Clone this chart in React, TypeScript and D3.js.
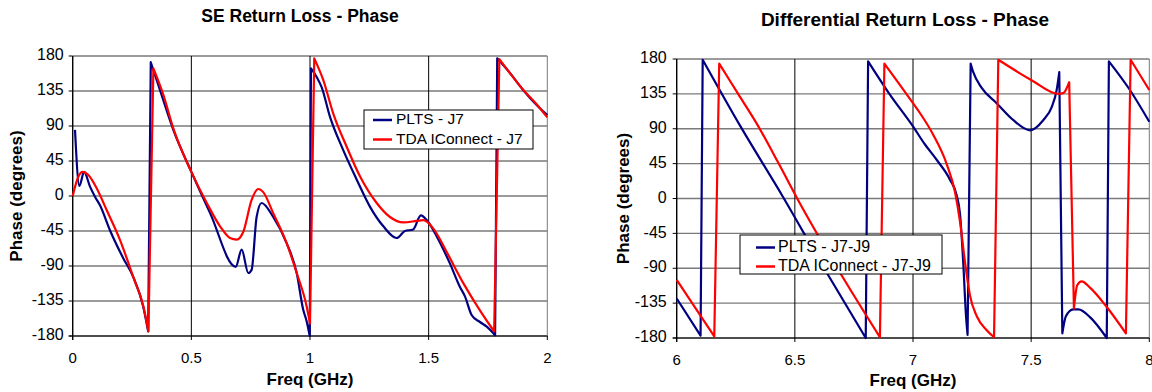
import React from "react";
import * as d3 from "d3";

// ---------- Data ----------
const yTicks = [-180, -135, -90, -45, 0, 45, 90, 135, 180];
const seXTicks = [0, 0.5, 1, 1.5, 2];
const diffXTicks = [6, 6.5, 7, 7.5, 8];

const seTitle = "SE Return Loss - Phase";
const diffTitle = "Differential Return Loss - Phase";
const seLegend = ["PLTS - J7", "TDA IConnect - J7"];
const diffLegend = ["PLTS - J7-J9", "TDA IConnect - J7-J9"];

// SE - PLTS J7
const sePltsFreq = [0.0097, 0.028, 0.048, 0.073, 0.094, 0.115, 0.157, 0.213, 0.255, 0.297, 0.318,
  0.329, 0.368, 0.424, 0.5, 0.579, 0.687, 0.712, 0.74, 0.754, 0.775, 0.796, 0.845, 0.902, 0.944, 0.972, 0.985, 0.999,
  1.004, 1.028, 1.049, 1.084, 1.14, 1.197, 1.253, 1.309, 1.365, 1.4, 1.435, 1.467, 1.492, 1.534, 1.59, 1.632, 1.653, 1.681, 1.716, 1.745, 1.78,
  1.789, 1.843, 1.899, 1.955, 2.0];
const sePltsPhase = [85, 13, 31, 12, -1, -12, -44, -80, -104, -142, -174,
  172, 136, 85, 31, -22, -91, -69, -99, -95, -27, -9, -27, -61, -99, -147, -160, -180,
  164, 153, 140, 102, 59, 21, -14, -39, -54, -45, -43, -25, -31, -52, -87, -117, -129, -153, -162, -168, -179,
  177, 158, 136, 117, 104];

// SE - TDA IConnect J7
const seTdaFreq = [0, 0.024, 0.042, 0.066, 0.101, 0.143, 0.2, 0.255, 0.298, 0.319,
  0.34, 0.382, 0.424, 0.5, 0.565, 0.621, 0.663, 0.691, 0.719, 0.754, 0.782, 0.803, 0.845, 0.902, 0.944, 0.986, 1.0,
  1.018, 1.056, 1.098, 1.155, 1.211, 1.281, 1.337, 1.393, 1.45, 1.478, 1.52, 1.576, 1.646, 1.716, 1.776,
  1.798, 1.85, 1.9, 1.955, 2.0];
const seTdaPhase = [0, 25, 31, 27, 10, -18, -57, -104, -142, -174,
  164, 130, 87, 31, -9, -39, -54, -56, -46, -5, 9, 5, -22, -61, -99, -142, -164,
  177, 149, 106, 63, 25, -9, -27, -34, -32, -31, -42, -72, -112, -147, -174,
  176, 155, 136, 118, 101];

// Differential - PLTS J7-J9
const diffPltsFreq = [6.0, 6.101, 6.11, 6.27, 6.45, 6.62, 6.8,
  6.81, 6.9, 7.0, 7.05, 7.1, 7.157, 7.185, 7.199, 7.213, 7.224, 7.231,
  7.244, 7.255, 7.29, 7.354, 7.425, 7.495, 7.551, 7.587, 7.608, 7.619,
  7.632, 7.647, 7.678, 7.7, 7.749, 7.82,
  7.829, 7.918, 8.0];
const diffPltsPhase = [-129, -177, 179, 93, 2, -88, -180,
  177, 135, 93, 70, 50, 24, 4, -20, -85, -150, -176,
  174, 163, 143, 123, 101, 88, 101, 118, 140, 163,
  -174, -152, -143, -143, -153, -180,
  177, 140, 99];

// Differential - TDA IConnect J7-J9
const diffTdaFreq = [6.0, 6.159, 6.18, 6.26, 6.34, 6.43, 6.51, 6.68, 6.86,
  6.879, 7.0, 7.03, 7.086, 7.143, 7.178, 7.199, 7.22, 7.241, 7.27, 7.312, 7.343,
  7.361, 7.5, 7.615, 7.636, 7.661,
  7.681, 7.695, 7.714, 7.749, 7.82, 7.901,
  7.921, 8.0];
const diffTdaPhase = [-105, -178, 174, 135, 96, 46, 0, -90, -179,
  174, 123, 110, 82, 44, 8, -30, -82, -125, -152, -170, -179,
  179, 153, 135, 136, 150,
  -142, -112, -107, -115, -140, -174,
  179, 140];

const BLUE = "#000080";
const RED = "#FF0000";
const FONT = "'Liberation Sans', Arial, Helvetica, sans-serif";

type Pt = [number, number];
const zip = (a: number[], b: number[]): Pt[] => a.map((v, i) => [v, b[i]]);

// split at phase wraps so that the smooth curve stays sharp at the jumps
function splitWraps(pts: Pt[]): Pt[][] {
  const segs: Pt[][] = [];
  let cur: Pt[] = [];
  pts.forEach((p, i) => {
    if (i > 0 && Math.abs(p[1] - pts[i - 1][1]) > 200) {
      segs.push(cur);
      cur = [];
    }
    cur.push(p);
  });
  segs.push(cur);
  return segs;
}

interface PanelProps {
  id: string;
  title: string;
  titleX: number;
  titleY: number;
  titleSize: number;
  xDomain: [number, number];
  xRange: [number, number];
  yRange: [number, number];
  xTicks: number[];
  series: { pts: Pt[]; color: string; name: string }[];
  legend: { x: number; y: number; w: number; h: number; lineX: number; textX: number; rowY: number[]; font: number };
  yLabelX: number;
  xLabelY: number;
  tickLabelGap: number;
}

function Panel(p: PanelProps) {
  const x = d3.scaleLinear().domain(p.xDomain).range(p.xRange);
  const y = d3.scaleLinear().domain([-180, 180]).range(p.yRange);
  const [x0, x1] = p.xRange;
  const [yb, yt] = p.yRange;
  const line = d3
    .line<Pt>()
    .x((d) => x(d[0]))
    .y((d) => y(d[1]))
    .curve(d3.curveMonotoneX);
  const pathFor = (pts: Pt[]) =>
    splitWraps(pts)
      .map((s, i) => {
        const d = line(s) || "";
        return i === 0 ? d : d.replace(/^M/, "L");
      })
      .join("");
  const cx = (x0 + x1) / 2;
  const cy = (yb + yt) / 2;
  return (
    <g>
      <defs>
        <clipPath id={p.id + "clip"}>
          <rect x={x0 - 2} y={yt - 2} width={x1 - x0 + 4} height={yb - yt + 4} />
        </clipPath>
      </defs>
      <text x={p.titleX} y={p.titleY} textAnchor="middle" fontFamily={FONT} fontWeight="bold" fontSize={p.titleSize} dominantBaseline="middle">
        {p.title}
      </text>
      {yTicks.map((t) => (
        <line key={"h" + t} x1={x0} x2={x1} y1={y(t)} y2={y(t)} stroke="#7a7a7a" strokeWidth={1.4} />
      ))}
      {p.xTicks.map((t) => (
        <line key={"v" + t} x1={x(t)} x2={x(t)} y1={yt} y2={yb} stroke={t === p.xDomain[1] ? "#7a7a7a" : "#000"} strokeWidth={1} />
      ))}
      <line x1={x0} x2={x0} y1={yt} y2={yb + 4} stroke="#000" strokeWidth={1.2} />
      <line x1={x0 - 4} x2={x1} y1={yb} y2={yb} stroke="#000" strokeWidth={1.2} />
      {yTicks.map((t) => (
        <g key={"yt" + t}>
          <line x1={x0 - 4} x2={x0} y1={y(t)} y2={y(t)} stroke="#000" />
          <text x={x0 - p.tickLabelGap} y={y(t)} textAnchor="end" dominantBaseline="middle" fontFamily={FONT} fontSize={16}>
            {t}
          </text>
        </g>
      ))}
      {p.xTicks.map((t) => (
        <g key={"xt" + t}>
          <line x1={x(t)} x2={x(t)} y1={yb} y2={yb + 4} stroke="#000" />
          <text x={x(t)} y={yb + 23} textAnchor="middle" dominantBaseline="middle" fontFamily={FONT} fontSize={15}>
            {t}
          </text>
        </g>
      ))}
      <text
        transform={`translate(${p.yLabelX},${cy}) rotate(-90)`}
        textAnchor="middle"
        dominantBaseline="middle"
        fontFamily={FONT}
        fontWeight="bold"
        fontSize={17}
      >
        Phase (degrees)
      </text>
      <text x={cx} y={p.xLabelY} textAnchor="middle" dominantBaseline="middle" fontFamily={FONT} fontWeight="bold" fontSize={17}>
        Freq (GHz)
      </text>
      <g clipPath={`url(#${p.id}clip)`}>
        {p.series.map((s) => (
          <path key={s.name} d={pathFor(s.pts)} fill="none" stroke={s.color} strokeWidth={2.2} strokeLinejoin="round" />
        ))}
      </g>
      <rect x={p.legend.x} y={p.legend.y} width={p.legend.w} height={p.legend.h} fill="#fff" stroke="#000" strokeWidth={1} />
      {p.series.map((s, i) => (
        <g key={"lg" + s.name}>
          <line
            x1={p.legend.lineX}
            x2={p.legend.lineX + 19}
            y1={p.legend.rowY[i]}
            y2={p.legend.rowY[i]}
            stroke={s.color}
            strokeWidth={2.5}
          />
          <text x={p.legend.textX} y={p.legend.rowY[i]} dominantBaseline="middle" fontFamily={FONT} fontSize={p.legend.font}>
            {s.name}
          </text>
        </g>
      ))}
    </g>
  );
}

export default function App() {
  return (
    <svg
      width={1152}
      height={392}
      style={{ position: "absolute", left: 0, top: 0, background: "#fff" }}
      xmlns="http://www.w3.org/2000/svg"
    >
      <rect x={0} y={0} width={1152} height={392} fill="#fff" />
      <Panel
        id="se"
        title={seTitle}
        titleX={300}
        titleY={17}
        titleSize={17.5}
        xDomain={[0, 2]}
        xRange={[72.7, 547.3]}
        yRange={[336, 56]}
        xTicks={seXTicks}
        series={[
          { pts: zip(sePltsFreq, sePltsPhase), color: BLUE, name: seLegend[0] },
          { pts: zip(seTdaFreq, seTdaPhase), color: RED, name: seLegend[1] },
        ]}
        legend={{ x: 364, y: 110, w: 169, h: 39, lineX: 373, textX: 396, rowY: [120, 139.5], font: 15.5 }}
        yLabelX={18}
        xLabelY={381}
        tickLabelGap={9}
      />
      <Panel
        id="diff"
        title={diffTitle}
        titleX={905}
        titleY={21}
        titleSize={19}
        xDomain={[6, 8]}
        xRange={[676.7, 1149.3]}
        yRange={[338, 59]}
        xTicks={diffXTicks}
        series={[
          { pts: zip(diffPltsFreq, diffPltsPhase), color: BLUE, name: diffLegend[0] },
          { pts: zip(diffTdaFreq, diffTdaPhase), color: RED, name: diffLegend[1] },
        ]}
        legend={{ x: 740, y: 235, w: 202, h: 39, lineX: 756, textX: 778, rowY: [247.5, 266.5], font: 16 }}
        yLabelX={625}
        xLabelY={382}
        tickLabelGap={10}
      />
    </svg>
  );
}
